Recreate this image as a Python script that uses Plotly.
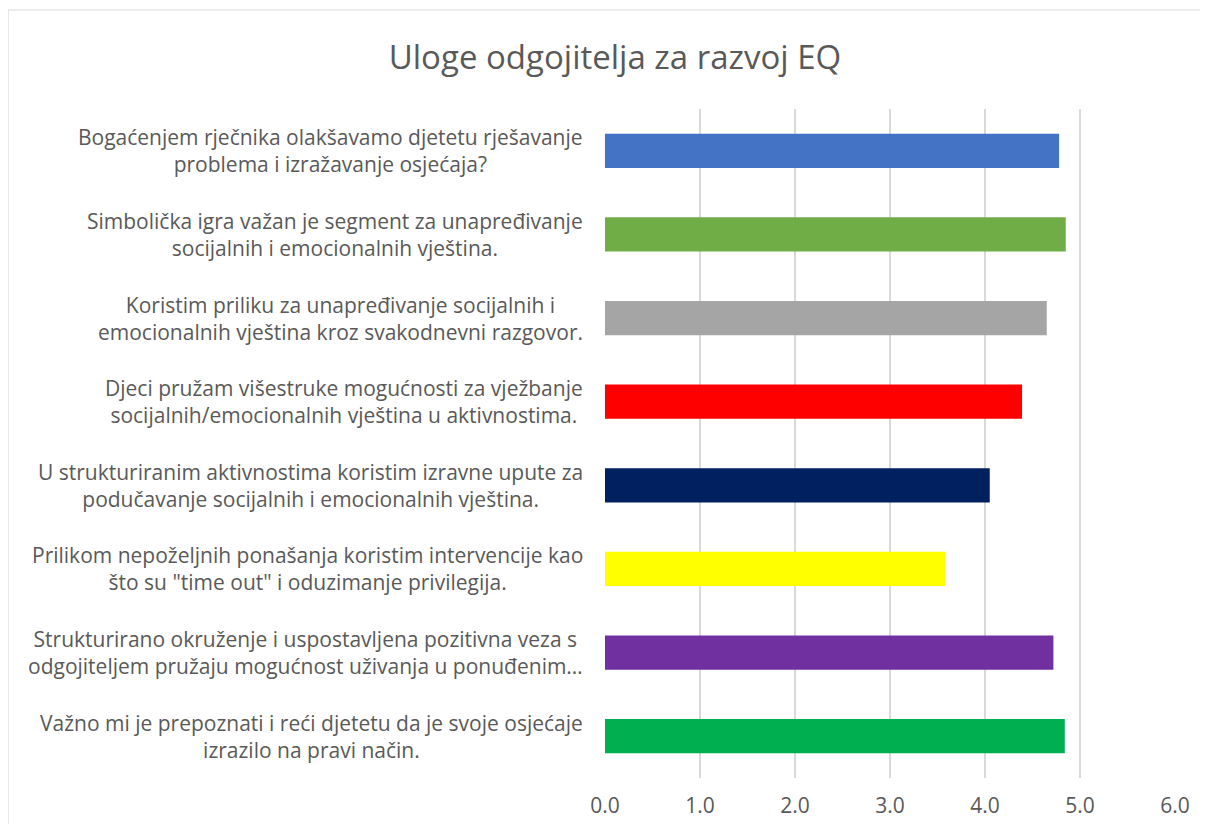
import plotly.graph_objects as go

categories = [
    "Bogaćenjem rječnika olakšavamo djetetu rješavanje<br>problema i izražavanje osjećaja?",
    "Simbolička igra važan je segment za unapređivanje<br>socijalnih i emocionalnih vještina.",
    "Koristim priliku za unapređivanje socijalnih i<br>emocionalnih vještina kroz svakodnevni razgovor.",
    "Djeci pružam višestruke mogućnosti za vježbanje<br>socijalnih/emocionalnih vještina u aktivnostima.",
    "U strukturiranim aktivnostima koristim izravne upute za<br>podučavanje socijalnih i emocionalnih vještina.",
    "Prilikom nepoželjnih ponašanja koristim intervencije kao<br>što su \"time out\" i oduzimanje privilegija.",
    "Strukturirano okruženje i uspostavljena pozitivna veza s<br>odgojiteljem pružaju mogućnost uživanja u ponuđenim…",
    "Važno mi je prepoznati i reći djetetu da je svoje osjećaje<br>izrazilo na pravi način.",
]
values = [4.78, 4.85, 4.65, 4.39, 4.05, 3.58, 4.72, 4.84]
colors = ["#4472C4", "#70AD47", "#A5A5A5", "#FF0000", "#002060", "#FFFF00", "#7030A0", "#00B050"]
x_ticks = [0, 1, 2, 3, 4, 5, 6]
title = "Uloge odgojitelja za razvoj EQ"

keys = [f"c{i}" for i in range(len(categories))]

# page body has an 8px default margin; figure coordinates are offset accordingly
OFF = 8
W, H = 1208 - 2 * OFF, 832 - 2 * OFF
L, T = 605 - OFF, 109 - OFF
R = W - (1175 - OFF)
B = H - (778 - OFF)
pw, ph = W - L - R, H - T - B

FONT = "Open Sans, sans-serif"

fig = go.Figure(go.Bar(
    x=values, y=keys, orientation="h",
    marker=dict(color=colors, line=dict(width=0)),
    width=0.41, hoverinfo="x",
))

label_font = dict(family=FONT, size=21, color="#595959")
for k, c in zip(keys, categories):
    fig.add_annotation(
        x=0, xref="paper", y=k, yref="y",
        text=c, showarrow=False, xanchor="right", yanchor="middle",
        align="center", xshift=-20, font=label_font,
    )

# outer chart border (light grey), left/top visible
fig.add_shape(type="rect", xref="paper", yref="paper",
              x0=(8 - OFF - L) / pw, x1=(W + 30 - L) / pw,
              y0=-(30 + B) / ph, y1=((H - B) - (10 - OFF)) / ph,
              line=dict(color="#D9D9D9", width=1.2), layer="below")

fig.update_layout(
    width=W, height=H,
    margin=dict(l=L, r=R, t=T, b=B, autoexpand=False),
    paper_bgcolor="white", plot_bgcolor="white",
    title=dict(text=title, x=(615 - OFF) / W, xanchor="center", y=1 - (57 - OFF) / H, yanchor="middle",
               font=dict(family=FONT, size=33, color="#595959")),
    xaxis=dict(range=[0, 6], tickvals=x_ticks, tickformat=".1f",
               showgrid=True, gridcolor="#D9D9D9", gridwidth=2,
               zeroline=False, showline=False, ticks="", automargin=False,
               tickfont=dict(family=FONT, size=21, color="#595959"),
               ticklabelstandoff=13),
    yaxis=dict(autorange="reversed", showticklabels=False, showgrid=False, zeroline=False,
               showline=False, ticks="", automargin=False),
    showlegend=False,
    bargap=0.59,
)

fig.write_html("out.html")
